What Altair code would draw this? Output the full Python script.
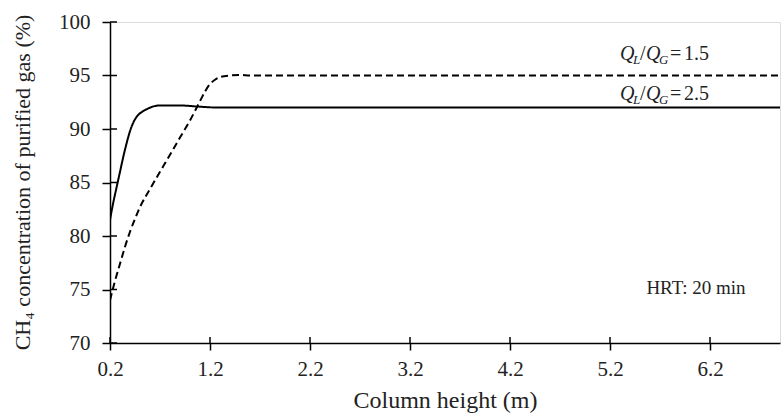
import altair as alt
import pandas as pd

# Data
h_25 = [0.2, 0.23, 0.267, 0.3, 0.333, 0.367, 0.4, 0.433, 0.467, 0.52, 0.567, 0.63, 0.7, 0.9, 1.07, 1.3, 2.0, 3.0, 4.0, 5.0, 6.0, 6.9]
c_25 = [81.5, 83.0, 84.6, 86.0, 87.4, 88.7, 89.8, 90.6, 91.15, 91.6, 91.85, 92.1, 92.2, 92.2, 92.1, 92.0, 92.0, 92.0, 92.0, 92.0, 92.0, 92.0]

h_15 = [0.2, 0.25, 0.3, 0.35, 0.4, 0.45, 0.5, 0.6, 0.7, 0.8, 0.9, 1.0, 1.1, 1.15, 1.2, 1.25, 1.3, 1.4, 1.5, 1.6, 2.0, 3.0, 4.0, 5.0, 6.0, 6.9]
c_15 = [74.0, 75.8, 77.4, 79.0, 80.4, 81.6, 82.7, 84.4, 86.0, 87.6, 89.2, 90.8, 92.6, 93.5, 94.2, 94.6, 94.85, 95.0, 95.05, 95.0, 95.0, 95.0, 95.0, 95.0, 95.0, 95.0]

x_ticks = [0.2, 1.2, 2.2, 3.2, 4.2, 5.2, 6.2]
y_ticks = [70, 75, 80, 85, 90, 95, 100]

label_x = [5.3, 5.3]
label_y = [96.45, 92.7]
label_num = ["1.5", "2.5"]

hrt_x = [6.06]
hrt_y = [75.1]
hrt_text = ["HRT: 20 min"]

FONT = "Liberation Serif"

df = pd.concat([
    pd.DataFrame({"h": h_25, "c": c_25, "series": "2.5"}),
    pd.DataFrame({"h": h_15, "c": c_15, "series": "1.5"}),
])
lab = pd.DataFrame({"x": label_x, "y": label_y, "num": label_num})
hrt = pd.DataFrame({"x": hrt_x, "y": hrt_y, "t": hrt_text})

xs = alt.Scale(domain=[0.2, 6.9], nice=False, zero=False)
ys = alt.Scale(domain=[70, 100], nice=False, zero=False)

lines = alt.Chart(df).mark_line(color="black", strokeWidth=2, interpolate="monotone", clip=True).encode(
    x=alt.X("h:Q", scale=xs, axis=alt.Axis(
        values=x_ticks, format=".1f", title="Column height (m)", grid=False, labelFlush=False,
        domainColor="black", domainWidth=1.5, tickColor="black", tickWidth=1.5, tickSize=7,
        labelFont=FONT, labelFontSize=21, labelColor="#222", labelPadding=8,
        titleFont=FONT, titleFontSize=24, titleFontWeight="normal", titleColor="#222",
        titleY=64, titleBaseline="alphabetic")),
    y=alt.Y("c:Q", scale=ys, axis=alt.Axis(
        values=y_ticks, title="CH₄ concentration of purified gas (%)", grid=False,
        domainColor="black", domainWidth=1.5, tickColor="black", tickWidth=1.5, tickSize=8,
        labelFont=FONT, labelFontSize=21, labelColor="#222", labelPadding=12,
        titleFont=FONT, titleFontSize=22, titleFontWeight="normal", titleColor="#222",
        titleX=-88, titleY=160, titleAngle=-90, titleAlign="center", titleBaseline="middle")),
    strokeDash=alt.StrokeDash("series:N", scale=alt.Scale(domain=["2.5", "1.5"], range=[[1, 0], [7, 4]]), legend=None),
    detail="series:N",
)

ytick_in = alt.Chart(pd.DataFrame({"v": y_ticks})).mark_rule(color="black", strokeWidth=1.5).encode(
    y=alt.Y("v:Q", scale=ys), x=alt.value(0), x2=alt.value(7))
xtick_in = alt.Chart(pd.DataFrame({"v": x_ticks})).mark_rule(color="black", strokeWidth=1.5).encode(
    x=alt.X("v:Q", scale=xs), y=alt.value(321), y2=alt.value(315))

base = alt.Chart(lab).encode(x=alt.X("x:Q", scale=xs), y=alt.Y("y:Q", scale=ys))
tkw = dict(font=FONT, color="#222", align="left", baseline="alphabetic")
q1 = base.mark_text(fontSize=20, fontStyle="italic", dx=0, **tkw).encode(text=alt.value("Q"))
l1 = base.mark_text(fontSize=13, fontStyle="italic", dx=13, dy=4, **tkw).encode(text=alt.value("L"))
sl = base.mark_text(fontSize=20, dx=20, **tkw).encode(text=alt.value("/"))
q2 = base.mark_text(fontSize=20, fontStyle="italic", dx=26, **tkw).encode(text=alt.value("Q"))
g1 = base.mark_text(fontSize=13, fontStyle="italic", dx=39, dy=4, **tkw).encode(text=alt.value("G"))
eq = base.mark_text(fontSize=20, dx=50, **tkw).encode(text=alt.value("="))
nm = base.mark_text(fontSize=20, dx=64, **tkw).encode(text="num:N")

hrt_t = alt.Chart(hrt).mark_text(font=FONT, fontSize=19, color="#222", align="center", baseline="middle").encode(
    x=alt.X("x:Q", scale=xs), y=alt.Y("y:Q", scale=ys), text="t:N")

chart = alt.layer(lines, ytick_in, xtick_in, q1, l1, sl, q2, g1, eq, nm, hrt_t).properties(
    width=670, height=321,
    autosize=alt.AutoSizeParams(type="none"),
    padding={"left": 110, "top": 22, "right": 1, "bottom": 73},
).configure_view(stroke=None).configure(background="white")

chart.save("out.html", embed_options={"renderer": "svg", "actions": False})
